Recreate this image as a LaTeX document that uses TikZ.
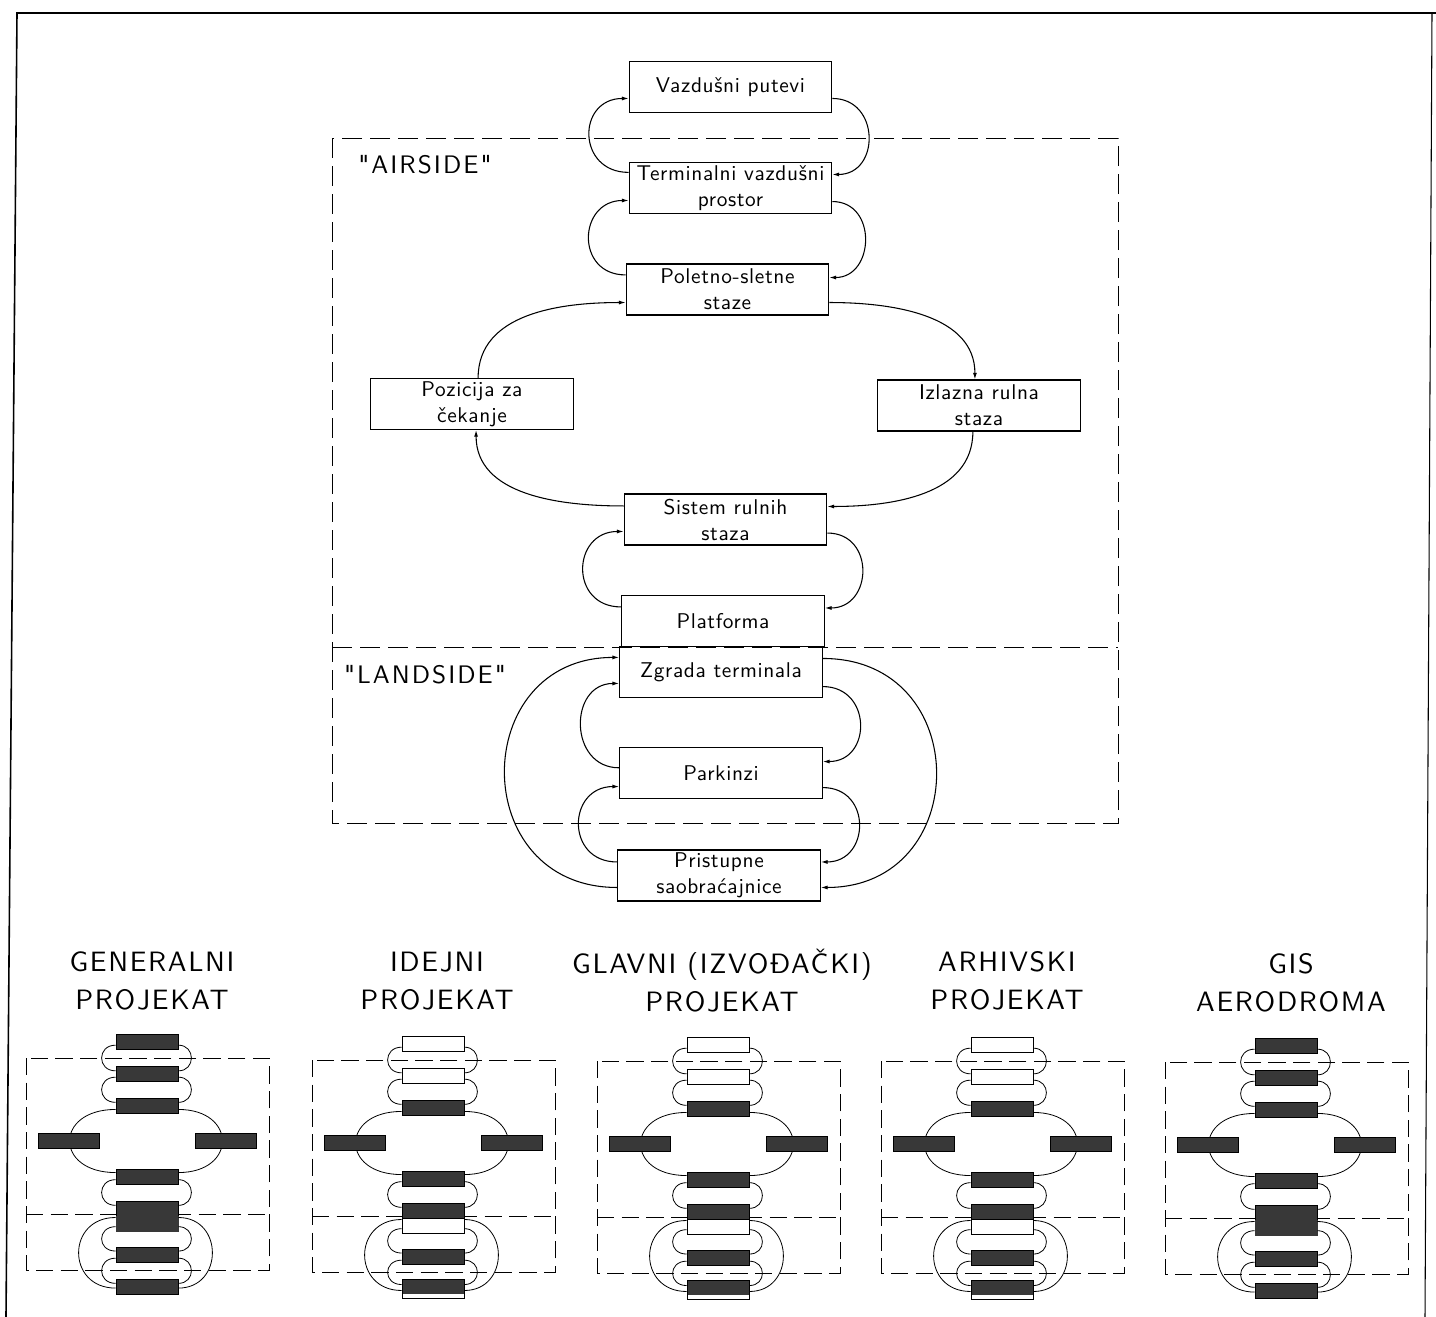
\documentclass[tikz,border=0pt]{standalone}
\usepackage{fontspec}
\usetikzlibrary{arrows.meta,calc}
\newfontfamily\crtez[LetterSpace=6]{lmsans10-regular.otf}

\tikzset{every picture/.style={line width=0.8pt}}
\tikzset{
  blok/.style={draw, minimum width=152pt, minimum height=38.25pt, inner sep=1pt, align=center,
    font=\crtez\fontsize{16}{19.5}\selectfont\addfontfeatures{LetterSpace=3}},
  oznaka/.style={inner sep=1pt, font=\crtez\fontsize{19}{22}\selectfont\addfontfeatures{LetterSpace=8}},
  naslov/.style={inner sep=1pt, align=center, font=\crtez\fontsize{21}{28.5}\selectfont},
  zona/.style={line width=0.7pt, dash pattern={on 15pt off 6pt}},
  mzona/.style={line width=0.6pt, dash pattern={on 13pt off 5.5pt}},
  veza/.style={-{Latex[length=5pt,width=3pt]}},
  mveza/.style={line width=0.6pt},
  mali/.style={draw, line width=0.6pt, minimum width=46.5pt, minimum height=11.25pt, inner sep=0pt},
  pun/.style={mali, fill=black!78},
  spoj/.style={pun, draw=black!78},
  prazan/.style={mali, fill=white},
  pundno/.style={mali, fill=white, minimum height=14.25pt,
    path picture={\fill[black!78] (path picture bounding box.north west) rectangle
      ($(path picture bounding box.north east)!0.78!(path picture bounding box.south east)$);}},
}

\begin{document}
\begin{tikzpicture}[x=0.75pt,y=0.75pt,yscale=-1,xscale=1]
\useasboundingbox (0,0) rectangle (1436,1317);
\fill[white] (0,0) rectangle (1436,1317);

%Frame
\draw[line width=1.2pt] (1436,13) -- (17,13) -- (6,1317);
\draw (1432,13) -- (1425,1317);

%Zones
\draw[zona] (332,138) rectangle (1118,823);
\draw[zona] (332,647) -- (1118,647);
\node[oznaka] (air) at (425,165) {"AIRSIDE"};
\node[oznaka] (land) at (425,675) {"LANDSIDE"};

%Boxes
\node[blok] (vp) at (730.5,87) {Vazdušni putevi};
\node[blok] (tvp) at (730.5,188) {Terminalni vazdušni\\prostor};
\node[blok] (pss) at (727.5,289.5) {Poletno-sletne\\staze};
\node[blok] (pzc) at (472,404) {Pozicija za\\čekanje};
\node[blok] (irs) at (979,405.5) {Izlazna rulna\\staza};
\node[blok] (srs) at (725.5,519.5) {Sistem rulnih\\staza};
\node[blok] (plat) at (723,621) {Platforma};
\node[blok] (zgt) at (721,672) {Zgrada terminala};
\node[blok] (park) at (721,773) {Parkinzi};
\node[blok] (prs) at (719,875.5) {Pristupne\\saobraćajnice};

%Vazdusni putevi - Terminalni vazdusni prostor
\draw[veza] ($(tvp.north west)!0.2!(tvp.south west)$) to[out=180,in=180,distance=39pt] ($(vp.north west)!0.72!(vp.south west)$);
\draw[veza] ($(vp.north east)!0.72!(vp.south east)$) to[out=0,in=0,distance=36pt] ($(tvp.north east)!0.24!(tvp.south east)$);
%Terminalni vazdusni prostor - Poletno-sletne staze
\draw[veza] ($(pss.north west)!0.22!(pss.south west)$) to[out=180,in=180,distance=38pt] ($(tvp.north west)!0.74!(tvp.south west)$);
\draw[veza] ($(tvp.north east)!0.76!(tvp.south east)$) to[out=0,in=0,distance=34pt] ($(pss.north east)!0.27!(pss.south east)$);
%Ring
\draw[veza] ($(pzc.north west)!0.53!(pzc.north east)$) to[out=-90,in=180] ($(pss.north west)!0.75!(pss.south west)$);
\draw[veza] ($(pss.north east)!0.75!(pss.south east)$) to[out=0,in=-90] ($(irs.north west)!0.48!(irs.north east)$);
\draw[veza] ($(irs.south west)!0.47!(irs.south east)$) to[out=90,in=0] ($(srs.north east)!0.25!(srs.south east)$);
\draw[veza] ($(srs.north west)!0.24!(srs.south west)$) to[out=180,in=90] ($(pzc.south west)!0.52!(pzc.south east)$);
%Sistem rulnih staza - Platforma
\draw[veza] ($(plat.north west)!0.23!(plat.south west)$) to[out=180,in=180,distance=39pt] ($(srs.north west)!0.73!(srs.south west)$);
\draw[veza] ($(srs.north east)!0.76!(srs.south east)$) to[out=0,in=0,distance=36pt] ($(plat.north east)!0.25!(plat.south east)$);
%Landside
\draw[veza] ($(prs.north west)!0.73!(prs.south west)$) to[out=180,in=180,distance=113pt] ($(zgt.north west)!0.22!(zgt.south west)$);
\draw[veza] ($(zgt.north east)!0.24!(zgt.south east)$) to[out=0,in=0,distance=114pt] ($(prs.north east)!0.73!(prs.south east)$);
\draw[veza] ($(park.north west)!0.4!(park.south west)$) to[out=180,in=180,distance=38pt] ($(zgt.north west)!0.72!(zgt.south west)$);
\draw[veza] ($(zgt.north east)!0.78!(zgt.south east)$) to[out=0,in=0,distance=37pt] ($(park.north east)!0.28!(park.south east)$);
\draw[veza] ($(prs.north west)!0.24!(prs.south west)$) to[out=180,in=180,distance=39pt] ($(park.north west)!0.76!(park.south west)$);
\draw[veza] ($(park.north east)!0.78!(park.south east)$) to[out=0,in=0,distance=37pt] ($(prs.north east)!0.24!(prs.south east)$);

%Titles
\node[naslov] (tgen) at (152,981) {GENERALNI\\PROJEKAT};
\node[naslov] (tide) at (437,981) {IDEJNI\\PROJEKAT};
\node[naslov] (tgla) at (722,981) {GLAVNI (IZVOĐAČKI)\\PROJEKAT};
\node[naslov] (tarh) at (1007,981) {ARHIVSKI\\PROJEKAT};
\node[naslov] (tgis) at (1291,983) {GIS\\AERODROMA};

%Small schemes
\foreach \cx/\dy/\gornji/\srednji/\donji/\ime in {147/0/pun/spoj/pun/gen, 433/2/prazan/prazan/pundno/ide, 718/3/prazan/prazan/pundno/gla, 1002/3/prazan/prazan/pundno/arh, 1286/4/pun/spoj/pun/gis}{
  \begin{scope}[shift={(\cx,\dy)}]
    \draw[mzona] (-121,1058) rectangle (122,1270);
    \draw[mzona] (-121,1214) -- (122,1214);
    \node[\gornji] (\ime1) at (0,1042) {};
    \node[\gornji] (\ime2) at (0,1074) {};
    \node[pun] (\ime3) at (0,1105.5) {};
    \node[pun] (\ime4) at (0,1176.5) {};
    \node[pun] (\ime5) at (0,1208.5) {};
    \node[\srednji] (\ime6) at (0,1223.5) {};
    \node[pun] (\ime7) at (0,1255) {};
    \node[\donji] (\ime8) at (0,1286.5) {};
    \draw[mveza] ($(\ime1.north west)!0.7!(\ime1.south west)$) to[out=180,in=180,distance=14pt] ($(\ime2.north west)!0.3!(\ime2.south west)$);
    \draw[mveza] ($(\ime1.north east)!0.7!(\ime1.south east)$) to[out=0,in=0,distance=13pt] ($(\ime2.north east)!0.3!(\ime2.south east)$);
    \draw[mveza] ($(\ime2.north west)!0.7!(\ime2.south west)$) to[out=180,in=180,distance=14pt] ($(\ime3.north west)!0.3!(\ime3.south west)$);
    \draw[mveza] ($(\ime2.north east)!0.7!(\ime2.south east)$) to[out=0,in=0,distance=13pt] ($(\ime3.north east)!0.3!(\ime3.south east)$);
    \draw[mveza] ($(\ime3.north west)!0.75!(\ime3.south west)$) to[out=180,in=180,distance=46pt] ($(\ime4.north west)!0.25!(\ime4.south west)$);
    \draw[mveza] ($(\ime3.north east)!0.75!(\ime3.south east)$) to[out=0,in=0,distance=44pt] ($(\ime4.north east)!0.25!(\ime4.south east)$);
    \draw[mveza] ($(\ime4.north west)!0.7!(\ime4.south west)$) to[out=180,in=180,distance=14pt] ($(\ime5.north west)!0.3!(\ime5.south west)$);
    \draw[mveza] ($(\ime4.north east)!0.7!(\ime4.south east)$) to[out=0,in=0,distance=13pt] ($(\ime5.north east)!0.3!(\ime5.south east)$);
    \draw[mveza] ($(\ime6.north west)!0.7!(\ime6.south west)$) to[out=180,in=180,distance=14pt] ($(\ime7.north west)!0.25!(\ime7.south west)$);
    \draw[mveza] ($(\ime6.north east)!0.7!(\ime6.south east)$) to[out=0,in=0,distance=13pt] ($(\ime7.north east)!0.25!(\ime7.south east)$);
    \draw[mveza] ($(\ime7.north west)!0.7!(\ime7.south west)$) to[out=180,in=180,distance=14pt] ($(\ime8.north west)!0.3!(\ime8.south west)$);
    \draw[mveza] ($(\ime7.north east)!0.7!(\ime7.south east)$) to[out=0,in=0,distance=13pt] ($(\ime8.north east)!0.3!(\ime8.south east)$);
    \draw[mveza] ($(\ime6.north west)!0.12!(\ime6.south west)$) to[out=180,in=180,distance=37pt] ($(\ime8.north west)!0.6!(\ime8.south west)$);
    \draw[mveza] ($(\ime6.north east)!0.12!(\ime6.south east)$) to[out=0,in=0,distance=34pt] ($(\ime8.north east)!0.6!(\ime8.south east)$);
    \node[pun, minimum width=45.75pt] (\ime l) at (-78.5,1140.5) {};
    \node[pun, minimum width=45.75pt] (\ime d) at (78.5,1140.5) {};
  \end{scope}
}
\end{tikzpicture}
\end{document}
